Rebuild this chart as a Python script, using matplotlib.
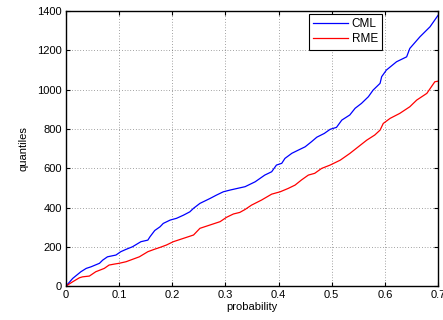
import matplotlib
matplotlib.use("Agg")
import matplotlib.pyplot as plt

plt.rcParams.update({"font.family": ["Liberation Sans", "DejaVu Sans"], "font.size": 8})

# values
p_cml = [0, 0.0126, 0.028, 0.038, 0.047, 0.063, 0.069, 0.078, 0.094, 0.103, 0.113, 0.125,
         0.141, 0.154, 0.158, 0.167, 0.177, 0.183, 0.196, 0.208, 0.221, 0.233, 0.240, 0.252,
         0.271, 0.283, 0.296, 0.309, 0.327, 0.337, 0.356, 0.374, 0.387, 0.396, 0.406, 0.412,
         0.425, 0.437, 0.450, 0.462, 0.472, 0.486, 0.497, 0.509, 0.519, 0.534, 0.544, 0.556,
         0.569, 0.578, 0.591, 0.594, 0.603, 0.622, 0.641, 0.647, 0.666, 0.685, 0.7]
q_cml = [0, 39, 73, 90, 98, 116, 132, 149, 158, 175, 187, 200,
         226, 234, 251, 283, 302, 319, 336, 345, 361, 378, 396, 421,
         446, 463, 480, 489, 500, 506, 531, 565, 582, 616, 625, 650,
         676, 692, 709, 735, 758, 777, 798, 808, 845, 871, 905, 930,
         964, 998, 1032, 1066, 1100, 1142, 1167, 1210, 1269, 1320, 1378]
p_rme = [0, 0.0126, 0.025, 0.031, 0.044, 0.056, 0.072, 0.081, 0.091, 0.1, 0.113, 0.125,
         0.138, 0.154, 0.166, 0.177, 0.189, 0.202, 0.221, 0.240, 0.252, 0.271, 0.290, 0.302,
         0.315, 0.327, 0.337, 0.349, 0.368, 0.387, 0.403, 0.418, 0.431, 0.443, 0.456, 0.468,
         0.481, 0.497, 0.516, 0.534, 0.550, 0.566, 0.581, 0.591, 0.597, 0.610, 0.628, 0.647,
         0.660, 0.679, 0.694, 0.7]
q_rme = [0, 22, 42, 47, 51, 73, 90, 107, 112, 116, 124, 136,
         149, 175, 187, 197, 209, 226, 243, 260, 294, 311, 328, 350,
         367, 375, 390, 412, 438, 468, 480, 497, 514, 540, 565, 574,
         599, 616, 641, 675, 709, 743, 769, 794, 828, 854, 879, 913,
         947, 981, 1040, 1043]

fig = plt.figure(figsize=(4.43, 3.2), dpi=100)
ax = fig.add_axes([0.149, 0.106, 0.8397, 0.8594])
ax.plot(p_cml, q_cml, color="#0000ff", lw=0.9, label="CML")
ax.plot(p_rme, q_rme, color="#ff0000", lw=0.9, label="RME")

ax.set_xlim(0, 0.7); ax.set_ylim(0, 1400)
ax.set_xticks([0, 0.1, 0.2, 0.3, 0.4, 0.5, 0.6, 0.7])
ax.set_xticklabels(["0", "0.1", "0.2", "0.3", "0.4", "0.5", "0.6", "0.7"])
ax.set_yticks(range(0, 1401, 200))
ax.grid(True, color="black", ls=(0, (1, 3)), lw=0.5, alpha=0.7)
ax.tick_params(direction="in", top=True, right=True, length=3, width=0.8, pad=3)
for s in ax.spines.values():
    s.set_linewidth(1.0)
ax.set_xlabel("probability", labelpad=1)
ax.set_ylabel("quantiles", labelpad=6)
leg = ax.legend(loc="upper right", bbox_to_anchor=(0.85, 0.99), fancybox=False,
                edgecolor="black", framealpha=1, fontsize=8.5, handlelength=2.9,
                handletextpad=0.35, borderpad=0.35, labelspacing=0.3, borderaxespad=0)
leg.get_frame().set_linewidth(0.8)
fig.savefig("out.png")
